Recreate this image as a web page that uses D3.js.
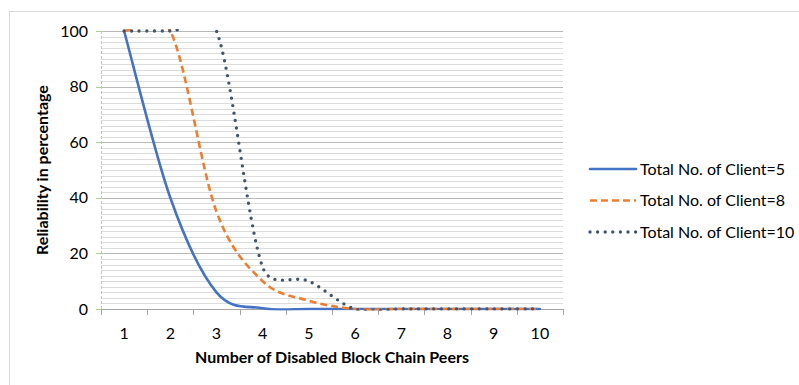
<!DOCTYPE html>
<html>
<head>
<meta charset="utf-8">
<script src="https://cdn.jsdelivr.net/npm/d3@7/dist/d3.min.js"></script>
<style>
  html, body { margin: 0; padding: 0; background: #fff; }
  svg { display: block; font-family: Lato, "Open Sans", sans-serif; }
</style>
</head>
<body>
<svg id="chart" width="799" height="385"></svg>
<script>
// ---- data ----
const categories = [1, 2, 3, 4, 5, 6, 7, 8, 9, 10];
const client5  = [100, 40, 6, 0.3, 0, 0, 0, 0, 0, 0];
const client8  = [100, 100, 35, 10, 3, 0, 0, 0, 0, 0];
const client10 = [100, 100, 100, 15, 10, 0, 0, 0, 0, 0];
const seriesNames = ["Total No. of Client=5", "Total No. of Client=8", "Total No. of Client=10"];
const yTicks = [0, 20, 40, 60, 80, 100];
const xTitle = "Number of Disabled Block Chain Peers";
const yTitle = "Reliability in percentage";

const svg = d3.select("#chart");
const W = 799, H = 385;
const plot = { left: 101, right: 563, top: 31, bottom: 309 };
const FS = 16;

// chart frame
svg.append("line").attr("x1", 9).attr("x2", W).attr("y1", 11.5).attr("y2", 11.5)
  .attr("stroke", "#d9d9d9").attr("stroke-width", 1);
svg.append("line").attr("x1", 9.5).attr("x2", 9.5).attr("y1", 11.5).attr("y2", H)
  .attr("stroke", "#d9d9d9").attr("stroke-width", 1);

const x = d3.scaleBand().domain(categories).range([plot.left, plot.right]).padding(0);
const y = d3.scaleLinear().domain([0, 100]).range([plot.bottom, plot.top]);

// gridlines (minor every 2, major every 20)
const minor = d3.range(2, 100.1, 2).filter(v => v % 20 !== 0);
svg.append("g").selectAll("line").data(minor).join("line")
  .attr("x1", plot.left).attr("x2", plot.right)
  .attr("y1", d => Math.round(y(d)) + 0.5).attr("y2", d => Math.round(y(d)) + 0.5)
  .attr("stroke", "#dcdcdc").attr("stroke-width", 1);
svg.append("g").selectAll("line").data(yTicks.filter(v => v > 0)).join("line")
  .attr("x1", plot.left).attr("x2", plot.right)
  .attr("y1", d => Math.round(y(d)) + 0.5).attr("y2", d => Math.round(y(d)) + 0.5)
  .attr("stroke", "#b8b8b8").attr("stroke-width", 1);

// y axis (dashed light green)
svg.append("line").attr("x1", plot.left + 0.5).attr("x2", plot.left + 0.5)
  .attr("y1", plot.top).attr("y2", plot.bottom)
  .attr("stroke", "#b5d69b").attr("stroke-width", 1).attr("stroke-dasharray", "3,2");
svg.append("g").selectAll("line").data(yTicks).join("line")
  .attr("x1", plot.left - 5).attr("x2", plot.left)
  .attr("y1", d => Math.round(y(d)) + 0.5).attr("y2", d => Math.round(y(d)) + 0.5)
  .attr("stroke", "#a9d18e").attr("stroke-width", 1);
svg.append("g").selectAll("text").data(yTicks).join("text")
  .attr("x", 88).attr("y", d => y(d)).attr("dy", "0.35em")
  .attr("text-anchor", "end").attr("font-size", FS).attr("fill", "#000")
  .text(d => d);

// x axis
svg.append("line").attr("x1", plot.left).attr("x2", plot.right)
  .attr("y1", plot.bottom + 0.5).attr("y2", plot.bottom + 0.5)
  .attr("stroke", "#a6a6a6").attr("stroke-width", 1);
const bounds = categories.map(c => x(c)).concat([plot.right]);
svg.append("g").selectAll("line").data(bounds).join("line")
  .attr("x1", d => Math.round(d) + 0.5).attr("x2", d => Math.round(d) + 0.5)
  .attr("y1", plot.bottom).attr("y2", plot.bottom + 6)
  .attr("stroke", "#a6a6a6").attr("stroke-width", 1);
svg.append("g").selectAll("text").data(categories).join("text")
  .attr("x", d => x(d) + x.bandwidth() / 2).attr("y", 338.5)
  .attr("text-anchor", "middle").attr("font-size", FS).attr("fill", "#000")
  .text(d => d);

// titles
svg.append("text").attr("x", (plot.left + plot.right) / 2).attr("y", 363)
  .attr("text-anchor", "middle").attr("font-size", FS).attr("font-weight", "bold")
  .attr("fill", "#000").text(xTitle);
svg.append("text").attr("transform", "translate(47.5,170) rotate(-90)")
  .attr("text-anchor", "middle").attr("font-size", FS).attr("font-weight", "bold")
  .attr("fill", "#000").text(yTitle);

// Excel-like smoothing curve (Bezier, control arm limited to half segment)
function ExcelCurve(context) { this._context = context; }
ExcelCurve.prototype = {
  areaStart() {}, areaEnd() {},
  lineStart() { this._pts = []; },
  point(px, py) { this._pts.push([+px, +py]); },
  lineEnd() {
    const p = this._pts, c = this._context, n = p.length;
    if (!n) return;
    c.moveTo(p[0][0], p[0][1]);
    const dist = (a, b) => Math.hypot(a[0] - b[0], a[1] - b[1]);
    for (let i = 0; i < n - 1; i++) {
      const p0 = p[i - 1] || p[i], p1 = p[i], p2 = p[i + 1], p3 = p[i + 2] || p[i + 1];
      const d02 = dist(p0, p2), d12 = dist(p1, p2), d13 = dist(p1, p3);
      let f1 = 1 / 6, f2 = 1 / 6;
      if (d02 / 6 >= d12 / 2 && d02 > 0) f1 = (d12 / 2) / d02;
      if (d13 / 6 >= d12 / 2 && d13 > 0) f2 = (d12 / 2) / d13;
      const b1 = [p1[0] + (p2[0] - p0[0]) * f1, p1[1] + (p2[1] - p0[1]) * f1];
      const b2 = [p2[0] - (p3[0] - p1[0]) * f2, p2[1] - (p3[1] - p1[1]) * f2];
      c.bezierCurveTo(b1[0], b1[1], b2[0], b2[1], p2[0], p2[1]);
    }
  }
};
const excelCurve = ctx => new ExcelCurve(ctx);

svg.append("clipPath").attr("id", "clip").append("rect")
  .attr("x", plot.left - 4).attr("y", plot.top - 2)
  .attr("width", plot.right - plot.left + 8).attr("height", plot.bottom - plot.top + 3.5);

const line = d3.line()
  .x((d, i) => x(categories[i]) + x.bandwidth() / 2)
  .y(d => y(d))
  .curve(excelCurve);

const styles = [
  { color: "#4472C4", width: 2.6, dash: null, cap: "round" },
  { color: "#ED7D31", width: 2.6, dash: "7,4", cap: "butt" },
  { color: "#44546A", width: 3.4, dash: "0,7.6", cap: "round" }
];
const allSeries = [client5, client8, client10];

const gLines = svg.append("g").attr("clip-path", "url(#clip)");
allSeries.forEach((s, k) => {
  const st = styles[k];
  gLines.append("path").attr("d", line(s))
    .attr("fill", "none").attr("stroke", st.color)
    .attr("stroke-width", st.width)
    .attr("stroke-dasharray", st.dash)
    .attr("stroke-linecap", st.cap)
    .attr("stroke-linejoin", "round");
});

// legend
const legY = [169, 200.5, 232];
const leg = svg.append("g");
seriesNames.forEach((name, k) => {
  const st = styles[k];
  leg.append("line").attr("x1", 590).attr("x2", 636)
    .attr("y1", legY[k]).attr("y2", legY[k])
    .attr("stroke", st.color).attr("stroke-width", st.width)
    .attr("stroke-dasharray", st.dash).attr("stroke-linecap", st.cap);
  leg.append("text").attr("x", 640).attr("y", legY[k]).attr("dy", "0.35em")
    .attr("font-size", FS).attr("fill", "#000").text(name);
});
</script>
</body>
</html>
